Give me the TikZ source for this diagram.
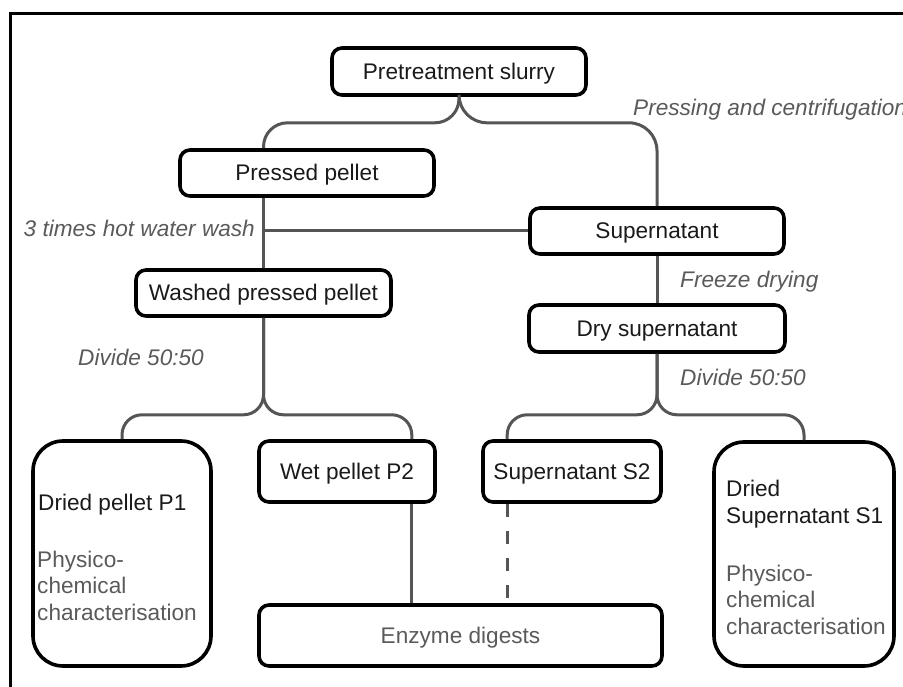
\documentclass[tikz,border=0pt]{standalone}
\usepackage{fontspec}
\setmainfont{Liberation Sans}
\usetikzlibrary{calc}
\definecolor{linegray}{HTML}{555555}
\definecolor{txtgray}{HTML}{5A5A5A}
\definecolor{txtdark}{HTML}{1A1A1A}
\begin{document}
\begin{tikzpicture}[x=1pt,y=-1pt,
  every node/.style={font=\fontsize{22.6}{26.5}\selectfont},
  box/.style={draw=black, line width=3.6pt, rounded corners=10pt, text=txtdark, text height=16pt, text depth=0pt, inner sep=0pt},
  bigbox/.style={draw=black, line width=3.6pt, rounded corners=30pt, inner sep=0pt},
  conn/.style={draw=linegray, line width=3pt},
  lbl/.style={text=txtgray, font=\fontsize{22.6}{26.5}\selectfont\itshape, inner sep=0pt},
  gtext/.style={text=txtgray, inner sep=0pt, align=left},
  dtext/.style={text=txtdark, inner sep=0pt, align=left}]
\clip (0,0) rectangle (903,687);
\fill[white] (0,0) rectangle (903,687);
\draw[line width=3pt] (10,14) rectangle (930,720);

% boxes
\node[box, minimum width=254pt, minimum height=47pt] (slurry) at (459,71.5) {Pretreatment slurry};
\node[box, minimum width=254pt, minimum height=46pt] (pp) at (307,173) {Pressed pellet};
\node[box, minimum width=254pt, minimum height=46pt] (sup) at (657,231) {Supernatant};
\node[box, minimum width=255pt, minimum height=46pt] (wpp) at (263.5,293) {Washed pressed pellet};
\node[box, minimum width=256pt, minimum height=47pt] (dsup) at (657,328.5) {Dry supernatant};
\node[bigbox, minimum width=178pt, minimum height=225pt] (p1) at (122,553.5) {};
\node[box, minimum width=176pt, minimum height=61pt] (wp2) at (347,471.5) {Wet pellet P2};
\node[box, minimum width=178pt, minimum height=61pt] (s2) at (572,471.5) {Supernatant S2};
\node[box, text=txtgray, minimum width=403pt, minimum height=61pt] (enz) at (460.5,635.5) {Enzyme digests};
\node[bigbox, minimum width=180pt, minimum height=224pt] (s1) at (804,554) {};

% texts inside big boxes (base = baseline of last line)
\node[dtext, anchor=base west] (p1a) at (38,510) {Dried pellet P1};
\node[gtext, anchor=base west] (p1b) at (37,620) {Physico-\\chemical\\characterisation};
\node[dtext, anchor=base west] (s1a) at (726,523) {Dried\\Supernatant S1};
\node[gtext, anchor=base west] (s1b) at (726,634) {Physico-\\chemical\\characterisation};

% labels
\node[lbl, anchor=base west] (lpress) at (633,116) {Pressing and centrifugation};
\node[lbl, anchor=base east] (lwash) at (255,237) {3 times hot water wash};
\node[lbl, anchor=base west] (lfreeze) at (680,288) {Freeze drying};
\node[lbl, anchor=base west] (ldiv1) at (78,365) {Divide 50:50};
\node[lbl, anchor=base west] (ldiv2) at (680,385) {Divide 50:50};

% connectors
\draw[conn, rounded corners=24pt] (slurry.south) -- ++(0,26) -| (pp.north -| wpp.north);
\draw[conn, rounded corners=28pt] (slurry.south) -- ++(0,26) -| (sup.north);
\draw[conn] (pp.south -| wpp.north) -- (wpp.north);
\draw[conn] (wpp.north |- sup.west) -- (sup.west);
\draw[conn] (sup.south) -- (dsup.north);
\draw[conn, rounded corners=20pt] (wpp.south) -- ++(0,97) -| (p1.north);
\draw[conn, rounded corners=20pt] (wpp.south) -- ++(0,97) -| ([xshift=-25pt]wp2.north east);
\draw[conn, rounded corners=20pt] (dsup.south) -- ++(0,61) -| ([xshift=26pt]s2.north west);
\draw[conn, rounded corners=20pt] (dsup.south) -- ++(0,61) -| (s1.north);
\draw[conn] ([xshift=-25pt]wp2.south east) -- ([xshift=-25pt]wp2.south east |- enz.north);
\draw[conn, dash pattern=on 13pt off 14pt] ([xshift=26pt]s2.south west) -- ([xshift=26pt]s2.south west |- enz.north);
\end{tikzpicture}
\end{document}
